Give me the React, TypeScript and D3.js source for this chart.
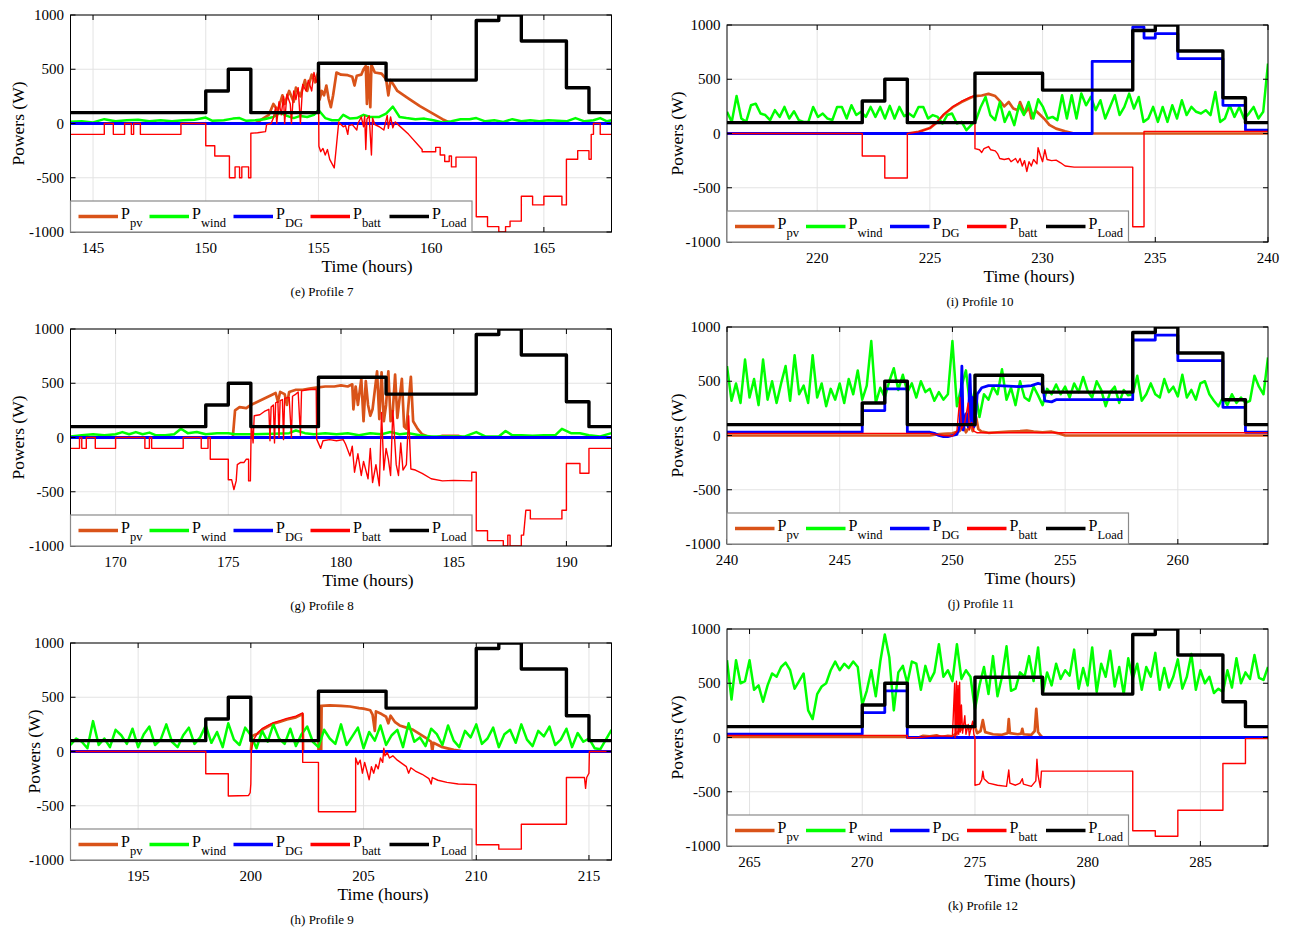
import React from 'react';
import * as d3 from 'd3';

type Pt = [number, number];

// Hourly load demand (W); the same daily pattern repeats every day
const loadByHour = [100, 100, 100, 100, 100, 100, 300, 500, 100, 100, 100, 555, 555, 555, 400, 400, 400, 400, 950, 1000, 760, 760, 330, 100];

const yTickValues = [-1000, -500, 0, 500, 1000];
const legendNames = ['pv', 'wind', 'DG', 'batt', 'Load'];

// ---------- Profile 7 (144 - 168 h) ----------
const p7Ticks = [145, 150, 155, 160, 165];
const p7Pv: Pt[] = [[144, 0], [152.2, 0], [152.5, 40], [152.8, 80], [153.0, 180], [153.2, 120], [153.4, 260], [153.5, 180], [153.7, 300], [153.9, 200], [154.0, 330], [154.2, 250], [154.4, 400], [154.5, 300], [154.7, 450], [154.85, 380], [155.0, 480], [155.05, 220], [155.15, 300], [155.25, 260], [155.35, 350], [155.45, 230], [155.55, 150], [155.65, 260], [155.8, 470], [156.0, 450], [156.3, 445], [156.5, 430], [156.6, 350], [156.7, 440], [156.9, 450], [157.0, 500], [157.1, 530], [157.15, 180], [157.2, 520], [157.3, 150], [157.35, 540], [157.5, 470], [157.8, 460], [158.0, 410], [158.1, 260], [158.2, 400], [158.35, 350], [158.5, 300], [159.0, 230], [159.5, 160], [160.0, 100], [160.5, 40], [160.9, 0], [168, 0]];
const p7Wind: Pt[] = [[144, 15], [144.5, 20], [145, 10], [145.5, 40], [146, 20], [146.5, 30], [147, 35], [147.5, 20], [148, 30], [148.5, 20], [149, 30], [149.5, 35], [150, 55], [150.3, 25], [150.8, 30], [151.2, 45], [151.5, 50], [151.8, 25], [152.2, 30], [152.6, 40], [153.0, 60], [153.3, 100], [153.6, 70], [153.9, 50], [154.2, 70], [154.5, 60], [154.8, 80], [155.0, 125], [155.3, 50], [155.6, 30], [155.9, 30], [156.1, 80], [156.4, 45], [156.7, 50], [157.0, 80], [157.3, 60], [157.7, 60], [158.0, 90], [158.3, 155], [158.6, 60], [158.9, 50], [159.3, 40], [159.7, 45], [160.1, 30], [160.5, 10], [160.9, 20], [161.3, 40], [161.7, 40], [162.0, 50], [162.4, 20], [162.8, 30], [163.2, 15], [163.6, 40], [164.0, 20], [164.4, 30], [164.8, 20], [165.2, 30], [165.6, 25], [166.0, 20], [166.4, 50], [166.8, 20], [167.2, 30], [167.5, 50], [167.8, 20], [168, 30]];
const p7Dg: Pt[] = [[144, 0], [168, 0]];
const p7Batt: Pt[] = [[144, -100], [145.5, -100], [145.5, 0], [145.9, 0], [145.9, -100], [146.4, -100], [146.4, 0], [146.7, 0], [146.7, -100], [146.8, -100], [146.8, 0], [147.1, 0], [147.1, -100], [148.9, -100], [148.9, 0], [150, 0], [150, -205], [150.4, -205], [150.4, -300], [151.05, -300], [151.05, -500], [151.3, -500], [151.3, -400], [151.5, -400], [151.5, -500], [151.6, -500], [151.6, -400], [151.9, -400], [151.9, -500], [152, -500], [152, -90], [152.3, -85], [152.65, -75], [152.7, -10], [152.9, 0], [153.0, 50], [153.1, 150], [153.15, 0], [153.25, 200], [153.35, 80], [153.45, 250], [153.5, 0], [153.6, 270], [153.75, 180], [153.8, 0], [153.9, 300], [154.0, 220], [154.1, 330], [154.2, 0], [154.3, 360], [154.45, 300], [154.55, 400], [154.7, 300], [154.8, 470], [154.9, 380], [155.0, 430], [155.02, -210], [155.1, -260], [155.2, -230], [155.3, -290], [155.4, -240], [155.5, -330], [155.6, -370], [155.7, -410], [155.8, -200], [155.9, 15], [156.0, -10], [156.1, -30], [156.2, -20], [156.3, -100], [156.35, -20], [156.5, -10], [156.7, -60], [156.75, 0], [156.9, 60], [157.0, -30], [157.05, 70], [157.1, -240], [157.15, 40], [157.25, 70], [157.35, -290], [157.4, 50], [157.5, -10], [157.7, -30], [157.9, -60], [158.05, 75], [158.1, -45], [158.2, 60], [158.3, -40], [158.4, 15], [159.0, -100], [159.6, -240], [159.6, -260], [160.2, -260], [160.2, -220], [160.4, -220], [160.4, -290], [160.6, -290], [160.6, -350], [160.8, -350], [160.8, -300], [160.9, -300], [160.9, -400], [161.1, -400], [161.1, -310], [162, -310], [162, -860], [162.5, -860], [162.5, -950], [163, -950], [163, -1000], [163.3, -1000], [163.3, -950], [163.5, -950], [163.5, -900], [164, -900], [164, -670], [164.5, -670], [164.5, -750], [165, -750], [165, -670], [165.8, -670], [165.8, -750], [166, -750], [166, -330], [166.5, -330], [166.5, -250], [167, -250], [167, -330], [167.1, -330], [167.1, -100], [167.2, -100], [167.2, 0], [167.5, 0], [167.5, -100], [168, -100]];

// ---------- Profile 8 (168 - 192 h) ----------
const p8Ticks = [170, 175, 180, 185, 190];
const p8Pv: Pt[] = [[168, 0], [175.2, 0], [175.3, 250], [175.5, 280], [175.8, 270], [176.0, 300], [176.3, 330], [176.6, 360], [176.9, 390], [177.1, 410], [177.2, 330], [177.3, 420], [177.5, 400], [177.6, 300], [177.7, 420], [178.0, 440], [178.3, 440], [178.6, 450], [178.9, 460], [179.3, 470], [179.7, 470], [180.0, 480], [180.3, 470], [180.5, 490], [180.55, 260], [180.65, 470], [180.75, 300], [180.9, 540], [181.0, 150], [181.1, 520], [181.2, 300], [181.3, 200], [181.4, 260], [181.6, 610], [181.7, 170], [181.8, 600], [181.9, 150], [182.0, 300], [182.1, 610], [182.2, 150], [182.3, 250], [182.4, 580], [182.5, 180], [182.7, 540], [182.8, 100], [182.9, 80], [183.1, 560], [183.2, 150], [183.4, 80], [183.6, 30], [183.9, 5], [184.2, 0], [184.5, 15], [185.2, 15], [185.4, 0], [192, 0]];
const p8Wind: Pt[] = [[168, 10], [168.5, 20], [169, 30], [169.5, 20], [170, 30], [170.3, 50], [170.6, 30], [170.9, 50], [171.2, 30], [171.5, 45], [171.8, 20], [172.2, 20], [172.6, 30], [172.9, 80], [173.2, 40], [173.6, 50], [174.0, 30], [174.5, 40], [175.0, 40], [175.3, 30], [176, 30], [177, 35], [177.7, 40], [178.0, 65], [178.4, 40], [178.8, 30], [179.3, 40], [179.8, 30], [180.3, 40], [180.8, 20], [181.3, 40], [181.8, 30], [182.2, 50], [182.6, 30], [183.0, 40], [183.5, 20], [184, 10], [184.5, 10], [185, 10], [185.5, 10], [186.0, 50], [186.4, 10], [187, 10], [187.3, 60], [187.6, 20], [188, 20], [188.5, 15], [189, 20], [189.5, 20], [189.8, 80], [190.2, 40], [190.6, 40], [191, 20], [191.5, 10], [192, 40]];
const p8Dg: Pt[] = [[168, 0], [192, 0]];
const p8Batt: Pt[] = [[168, -100], [168.4, -100], [168.4, 0], [168.5, 0], [168.5, -100], [168.7, -100], [168.7, 0], [169.1, 0], [169.1, -100], [170, -100], [170, 0], [171.3, 0], [171.3, -100], [171.5, -100], [171.5, 0], [171.6, 0], [171.6, -100], [173, -100], [173, 0], [173.8, 0], [173.8, -100], [174.1, -100], [174.1, 0], [174.2, 0], [174.2, -200], [175, -200], [175, -390], [175.15, -390], [175.25, -480], [175.35, -400], [175.4, -250], [175.55, -230], [175.7, -230], [175.8, -200], [175.9, -200], [175.9, -400], [175.98, -400], [176.02, 150], [176.1, -50], [176.15, 200], [176.4, 210], [176.6, 240], [176.8, 260], [176.85, -30], [176.9, 280], [177.0, 300], [177.05, -50], [177.1, 320], [177.2, 330], [177.25, 0], [177.3, 340], [177.4, 350], [177.45, -20], [177.5, 360], [177.7, 370], [177.8, 0], [177.85, 380], [178.0, 400], [178.1, 420], [178.2, 20], [178.25, 430], [178.5, 440], [178.9, 445], [178.92, -15], [179.1, -100], [179.2, -30], [179.5, -20], [179.8, -30], [180.1, -20], [180.2, -60], [180.4, -170], [180.5, -80], [180.6, -320], [180.75, -150], [180.9, -350], [181.0, -220], [181.2, -380], [181.3, -100], [181.4, -415], [181.55, -250], [181.7, -445], [181.8, 230], [181.9, -300], [182.0, -100], [182.1, -200], [182.2, -350], [182.3, 250], [182.45, -250], [182.55, -350], [182.65, -50], [182.75, -300], [182.9, -250], [183.0, 200], [183.1, -290], [183.3, -300], [183.6, -330], [184.0, -380], [184.5, -400], [185.0, -395], [185.8, -400], [185.8, -320], [186, -320], [186, -860], [186.5, -860], [186.5, -950], [187.2, -950], [187.2, -1000], [187.4, -1000], [187.4, -900], [187.5, -900], [187.5, -1000], [188, -1000], [188, -900], [188.1, -900], [188.2, -670], [188.4, -670], [188.4, -750], [189.8, -750], [189.8, -670], [190, -670], [190, -240], [190.6, -240], [190.6, -330], [191, -330], [191, -100], [192, -100]];

// ---------- Profile 9 (192 - 216 h) ----------
const p9Ticks = [195, 200, 205, 210, 215];
const p9Pv: Pt[] = [[192, 0], [200, 0], [200.05, 140], [200.3, 165], [200.5, 200], [200.8, 235], [201.0, 255], [201.3, 275], [201.6, 295], [202.0, 315], [202.3, 345], [202.32, 0], [203.0, 0], [203.02, 410], [203.1, 420], [203.12, 0], [203.14, 420], [203.5, 425], [204.0, 420], [204.4, 415], [204.8, 400], [205.0, 395], [205.3, 380], [205.4, 340], [205.5, 190], [205.55, 370], [205.8, 345], [206.0, 320], [206.1, 260], [206.2, 330], [206.4, 270], [206.6, 240], [206.9, 220], [207.2, 200], [207.5, 160], [207.8, 120], [208.0, 90], [208.05, 0], [208.1, 80], [208.5, 40], [209.0, 15], [209.5, 0], [216, 0]];
const p9Wind = [60, 120, 90, 30, 280, 60, 120, 40, 200, 150, 70, 210, 40, 160, 230, 60, 110, 250, 90, 40, 150, 220, 70, 130, 240, 80, 180, 40, 260, 110, 60, 220, 150, 30, 190, 90, 250, 120, 70, 210, 50, 160, 230, 90, 40, 200, 120, 70, 250, 60, 140, 220, 30, 180, 100, 240, 60, 150, 200, 40, 260, 90, 130, 50, 210, 160, 60, 240, 100, 40, 190, 130, 250, 70, 120, 220, 40, 160, 200, 80, 250, 110, 50, 190, 140, 230, 60, 110, 210, 40, 170, 90, 120, 30, 20, 110, 200];
const p9Dg: Pt[] = [[192, 0], [216, 0]];
const p9Batt: Pt[] = [[192, 0], [198, 0], [198, -205], [199, -205], [199, -410], [199.9, -405], [199.97, -380], [200, -300], [200.02, 0], [200.1, 100], [200.3, 170], [200.5, 210], [200.8, 245], [201.0, 265], [201.3, 285], [201.6, 305], [202.0, 325], [202.3, 355], [202.3, -100], [203, -100], [203, -555], [204.65, -555], [204.65, -60], [204.75, -120], [204.85, -80], [204.95, -200], [205.05, -100], [205.15, -180], [205.25, -260], [205.35, -140], [205.45, -200], [205.55, -120], [205.65, -160], [205.75, -60], [205.85, -100], [205.9, 30], [205.95, -40], [206.05, -10], [206.15, -60], [206.3, -40], [206.5, -80], [206.7, -110], [206.9, -140], [207.0, -200], [207.1, -150], [207.3, -180], [207.6, -210], [207.9, -250], [208.0, -300], [208.05, -240], [208.3, -265], [208.7, -285], [209.2, -300], [210, -305], [210, -860], [211, -860], [211, -900], [212, -900], [212, -670], [214, -670], [214, -240], [214.8, -240], [214.85, -340], [214.9, -240], [215, -200], [215.02, 0], [216, 0]];

// ---------- Profile 10 (216 - 240 h) ----------
const p10Ticks = [220, 225, 230, 235, 240];
const p10Pv: Pt[] = [[216, 0], [224, 0], [224.5, 15], [225, 50], [225.3, 100], [225.6, 170], [226, 240], [226.4, 290], [226.8, 330], [227, 345], [227.3, 350], [227.6, 365], [227.9, 345], [228.1, 300], [228.3, 250], [228.5, 290], [228.7, 230], [228.9, 215], [229.0, 290], [229.2, 185], [229.4, 240], [229.5, 140], [229.7, 210], [229.9, 170], [230.1, 130], [230.3, 80], [230.6, 45], [231.0, 20], [231.4, 0], [240, 0]];
const p10Wind = [200, 107, 345, 138, 107, 260, 275, 184, 170, 123, 215, 153, 245, 138, 205, 123, 107, 107, 245, 153, 184, 138, 123, 245, 245, 138, 260, 170, 200, 153, 245, 153, 245, 138, 255, 138, 245, 160, 184, 153, 245, 245, 138, 170, 153, 92, 170, 184, 92, 107, 30, 77, 123, 245, 337, 170, 123, 290, 107, 200, 77, 260, 170, 290, 138, 315, 245, 138, 153, 123, 353, 138, 353, 138, 368, 260, 337, 215, 307, 138, 245, 353, 170, 245, 368, 230, 337, 107, 138, 245, 107, 245, 107, 260, 138, 307, 170, 245, 200, 184, 215, 170, 383, 107, 138, 260, 153, 245, 138, 184, 245, 138, 200, 645];
const p10Dg: Pt[] = [[216, 0], [232.2, 0], [232.2, 665], [234, 665], [234, 980], [234.5, 980], [234.5, 880], [235, 880], [235, 920], [236, 920], [236, 690], [238, 690], [238, 260], [239, 260], [239, 30], [240, 30]];
const p10Batt: Pt[] = [[216, 0], [222, 0], [222, -208], [223, -208], [223, -410], [224, -410], [224, 0], [224.5, 15], [225, 50], [225.3, 100], [225.6, 175], [226, 245], [226.4, 295], [226.8, 335], [227, 350], [227, -140], [227.2, -150], [227.3, -175], [227.4, -140], [227.6, -120], [227.7, -150], [227.9, -160], [228.0, -185], [228.1, -230], [228.3, -240], [228.5, -230], [228.6, -260], [228.8, -230], [228.9, -270], [229.0, -230], [229.1, -300], [229.2, -250], [229.3, -350], [229.4, -260], [229.5, -300], [229.6, -240], [229.75, -280], [229.8, -130], [229.9, -200], [230.0, -260], [230.1, -150], [230.2, -240], [230.4, -250], [230.6, -245], [230.8, -270], [231.0, -300], [231.4, -310], [234, -310], [234, -860], [234.5, -860], [234.5, 20], [240, 20]];

// ---------- Profile 11 (240 - 264 h) ----------
const p11Ticks = [240, 245, 250, 255, 260];
const p11Pv: Pt[] = [[240, 0], [249, 0], [249.3, 10], [249.6, 15], [250, 20], [250.3, 40], [250.5, 80], [250.6, 30], [250.8, 100], [250.9, 40], [251.05, 170], [251.15, 60], [251.3, 35], [251.6, 25], [252, 30], [252.5, 35], [253, 40], [253.3, 45], [253.6, 35], [254, 30], [254.4, 35], [254.7, 20], [255, 0], [264, 0]];
const p11Wind = [640, 320, 480, 300, 700, 350, 520, 280, 700, 330, 500, 300, 480, 640, 320, 740, 380, 460, 300, 740, 350, 480, 270, 430, 330, 480, 300, 520, 380, 600, 330, 460, 870, 300, 440, 350, 500, 620, 420, 560, 400, 480, 350, 500, 400, 430, 320, 400, 330, 380, 870, 270, 450, 600, 250, 420, 170, 380, 330, 450, 380, 610, 330, 440, 280, 500, 350, 320, 450, 370, 280, 430, 380, 470, 380, 450, 350, 480, 400, 540, 410, 350, 500, 420, 270, 400, 450, 300, 420, 370, 380, 550, 320, 380, 480, 380, 350, 520, 400, 450, 360, 560, 350, 420, 330, 480, 500, 380, 320, 270, 350, 280, 380, 300, 350, 300, 320, 550, 450, 380, 720];
const p11Dg: Pt[] = [[240, 30], [246, 30], [246, 230], [247, 230], [247, 430], [248, 430], [248, 30], [249, 30], [249.2, 20], [249.4, 0], [249.6, -10], [249.8, -10], [250, 0], [250.2, 10], [250.35, 100], [250.42, 640], [250.48, 50], [250.6, 200], [250.7, 80], [250.78, 560], [250.85, 100], [250.9, 350], [250.95, 80], [251.0, 100], [251.1, 380], [251.3, 440], [251.6, 460], [252, 460], [252.5, 455], [253, 450], [253.5, 460], [253.8, 480], [254, 470], [254.1, 320], [254.4, 310], [254.6, 330], [258, 330], [258, 880], [259, 880], [259, 925], [260, 925], [260, 690], [262, 690], [262, 260], [263, 260], [263, 30], [264, 30]];
const p11Batt: Pt[] = [[240, 20], [249, 20], [249.3, 10], [249.6, 0], [250, -5], [250.2, 40], [250.33, 350], [250.4, 60], [250.55, 120], [250.7, 300], [250.75, 50], [250.85, 120], [250.95, 40], [251.1, 25], [264, 25]];

// ---------- Profile 12 (264 - 288 h) ----------
const p12Ticks = [265, 270, 275, 280, 285];
const p12Pv: Pt[] = [[264, 5], [272, 5], [272, 0], [272.5, 0], [272.7, 15], [273, 10], [273.3, 20], [273.5, 5], [273.8, 15], [274, 10], [274.3, 60], [274.6, 110], [274.8, 80], [274.95, 130], [275.1, 40], [275.25, 60], [275.35, 160], [275.45, 50], [275.8, 30], [276.2, 25], [276.45, 40], [276.5, 170], [276.55, 40], [276.9, 30], [277.05, 35], [277.1, 80], [277.15, 30], [277.5, 25], [277.65, 60], [277.72, 265], [277.8, 50], [277.9, 20], [278, 0], [288, 0]];
const p12Wind = [712, 350, 712, 500, 520, 712, 440, 480, 330, 480, 590, 560, 650, 690, 620, 450, 520, 590, 250, 170, 400, 470, 500, 620, 700, 620, 680, 640, 700, 650, 300, 430, 620, 380, 700, 950, 740, 250, 600, 660, 500, 700, 680, 440, 660, 520, 600, 860, 560, 620, 520, 860, 540, 620, 560, 260, 480, 650, 400, 750, 380, 560, 840, 430, 450, 600, 560, 750, 520, 830, 400, 600, 480, 680, 540, 620, 570, 810, 450, 640, 480, 830, 420, 680, 560, 800, 470, 650, 400, 730, 540, 680, 440, 650, 560, 780, 440, 640, 460, 560, 720, 450, 560, 770, 440, 620, 500, 560, 410, 450, 420, 620, 460, 730, 500, 600, 540, 760, 550, 530, 650];
const p12Dg: Pt[] = [[264, 30], [270, 30], [270, 230], [271, 230], [271, 430], [272, 430], [272, 0], [288, 0]];
const p12Batt: Pt[] = [[264, 20], [272, 20], [272, -5], [272.5, 0], [273, 10], [273.5, 15], [274, 10], [274.1, 500], [274.12, 0], [274.18, 520], [274.2, 20], [274.25, 480], [274.28, 30], [274.32, 510], [274.35, 50], [274.4, 300], [274.45, 40], [274.55, 200], [274.6, 30], [274.7, 120], [274.75, 20], [274.9, 150], [274.95, 30], [275, 0], [275, -440], [275.2, -430], [275.3, -390], [275.35, -310], [275.4, -380], [275.6, -420], [276, -440], [276.4, -450], [276.5, -300], [276.55, -420], [276.8, -440], [277.0, -420], [277.1, -380], [277.15, -430], [277.5, -450], [277.7, -400], [277.75, -200], [277.8, -350], [277.9, -460], [277.95, -310], [282, -310], [282, -860], [283, -860], [283, -910], [284, -910], [284, -670], [286, -670], [286, -240], [287, -240], [287, -10], [288, -10]];

// Evenly spaced samples across a 24 h window
const overDay = (start: number, vals: number[]): Pt[] =>
  vals.map((v, i) => [start + (24 * i) / (vals.length - 1), v] as Pt);

interface Profile {
  id: string;
  caption: string;
  start: number;
  ticks: number[];
  pv: Pt[];
  wind: Pt[];
  dg: Pt[];
  batt: Pt[];
}

const profiles: Profile[] = [
  { id: 'e', caption: '(e) Profile 7', start: 144, ticks: p7Ticks, pv: p7Pv, wind: p7Wind, dg: p7Dg, batt: p7Batt },
  { id: 'g', caption: '(g) Profile 8', start: 168, ticks: p8Ticks, pv: p8Pv, wind: p8Wind, dg: p8Dg, batt: p8Batt },
  { id: 'h', caption: '(h) Profile 9', start: 192, ticks: p9Ticks, pv: p9Pv, wind: overDay(192, p9Wind), dg: p9Dg, batt: p9Batt },
  { id: 'i', caption: '(i) Profile 10', start: 216, ticks: p10Ticks, pv: p10Pv, wind: overDay(216, p10Wind), dg: p10Dg, batt: p10Batt },
  { id: 'j', caption: '(j) Profile 11', start: 240, ticks: p11Ticks, pv: p11Pv, wind: overDay(240, p11Wind), dg: p11Dg, batt: p11Batt },
  { id: 'k', caption: '(k) Profile 12', start: 264, ticks: p12Ticks, pv: p12Pv, wind: overDay(264, p12Wind), dg: p12Dg, batt: p12Batt },
];

// Page layout of each axes box
interface Frame { left: number; top: number; ylabelX: number; xlabelX: number; captionX: number }
const frames: Record<string, Frame> = {
  e: { left: 70.5, top: 15, ylabelX: 18, xlabelX: 367, captionX: 322 },
  g: { left: 70.5, top: 329, ylabelX: 18, xlabelX: 368, captionX: 322 },
  h: { left: 70.5, top: 643, ylabelX: 34, xlabelX: 383, captionX: 322 },
  i: { left: 727, top: 25, ylabelX: 677, xlabelX: 1029, captionX: 980 },
  j: { left: 727, top: 327, ylabelX: 677, xlabelX: 1030, captionX: 981 },
  k: { left: 727, top: 629, ylabelX: 677, xlabelX: 1030, captionX: 983 },
};
const PLOT_W = 541;
const PLOT_H = 217;
const FONT = '"Liberation Serif", "Times New Roman", serif';

const styles = {
  pv: { color: '#d95319', width: 2.7 },
  wind: { color: '#00ff00', width: 2.5 },
  dg: { color: '#0000ff', width: 2.8 },
  batt: { color: '#ff0000', width: 1.4 },
  load: { color: '#000000', width: 3.4 },
};
const legendStyles = [styles.pv, styles.wind, styles.dg, styles.batt, styles.load];
const legendOffsets = [8, 79, 163, 240, 319];

function Panel({ p, f }: { p: Profile; f: Frame }) {
  const right = f.left + PLOT_W;
  const bottom = f.top + PLOT_H;
  const x = d3.scaleLinear().domain([p.start, p.start + 24]).range([f.left, right]);
  const y = d3.scaleLinear().domain([-1000, 1000]).range([bottom, f.top]);
  const line = d3.line<Pt>().x((d) => x(d[0])).y((d) => y(d[1]));
  const step = d3.line<Pt>().x((d) => x(d[0])).y((d) => y(d[1])).curve(d3.curveStepAfter);
  const loadPts: Pt[] = loadByHour.map((v, h) => [p.start + h, v] as Pt);
  loadPts.push([p.start + 24, loadByHour[loadByHour.length - 1]]);
  const clipId = `clip-${p.id}`;
  const tick = 5;
  const legTop = bottom - 31;

  return (
    <g>
      <defs>
        <clipPath id={clipId}>
          <rect x={f.left} y={f.top} width={PLOT_W} height={PLOT_H} />
        </clipPath>
      </defs>
      {/* grid */}
      <g stroke="#e3e3e3" strokeWidth={1}>
        {p.ticks.map((t) => (
          <line key={`gx${t}`} x1={x(t)} x2={x(t)} y1={f.top} y2={bottom} />
        ))}
        {yTickValues.map((v) => (
          <line key={`gy${v}`} x1={f.left} x2={right} y1={y(v)} y2={y(v)} />
        ))}
      </g>
      {/* series */}
      <g clipPath={`url(#${clipId})`} fill="none" strokeLinejoin="round">
        <path d={line(p.pv) || ''} stroke={styles.pv.color} strokeWidth={styles.pv.width} />
        <path d={line(p.wind) || ''} stroke={styles.wind.color} strokeWidth={styles.wind.width} />
        <path d={line(p.dg) || ''} stroke={styles.dg.color} strokeWidth={styles.dg.width} />
        <path d={line(p.batt) || ''} stroke={styles.batt.color} strokeWidth={styles.batt.width} />
        <path d={step(loadPts) || ''} stroke={styles.load.color} strokeWidth={styles.load.width} />
      </g>
      {/* box and ticks */}
      <rect x={f.left} y={f.top} width={PLOT_W} height={PLOT_H} fill="none" stroke="#000" strokeWidth={1} />
      <g stroke="#000" strokeWidth={1}>
        {p.ticks.map((t) => (
          <g key={`tx${t}`}>
            <line x1={x(t)} x2={x(t)} y1={bottom} y2={bottom - tick} />
            <line x1={x(t)} x2={x(t)} y1={f.top} y2={f.top + tick} />
          </g>
        ))}
        {yTickValues.map((v) => (
          <g key={`ty${v}`}>
            <line x1={f.left} x2={f.left + tick} y1={y(v)} y2={y(v)} />
            <line x1={right} x2={right - tick} y1={y(v)} y2={y(v)} />
          </g>
        ))}
      </g>
      <g fontFamily={FONT} fontSize={15} fill="#000">
        {p.ticks.map((t) => (
          <text key={`lx${t}`} x={x(t)} y={bottom + 21} textAnchor="middle">{t}</text>
        ))}
        {yTickValues.map((v) => (
          <text key={`ly${v}`} x={f.left - 6.5} y={y(v) + 5} textAnchor="end">{v}</text>
        ))}
      </g>
      {/* legend */}
      <rect x={f.left} y={legTop} width={401.5} height={31} fill="#fff" stroke="#8a8a8a" strokeWidth={1.2} />
      {legendNames.map((name, i) => {
        const lx = f.left + legendOffsets[i];
        const st = legendStyles[i];
        return (
          <g key={name}>
            <line x1={lx} x2={lx + 39.5} y1={legTop + 15.5} y2={legTop + 15.5} stroke={st.color} strokeWidth={3.4} />
            <text x={lx + 42.5} y={legTop + 17.5} fontFamily={FONT} fontSize={16} fill="#000">
              P
              <tspan fontSize={12.5} dy={8.5}>{name}</tspan>
            </text>
          </g>
        );
      })}
      {/* labels */}
      <text x={f.xlabelX} y={bottom + 40} textAnchor="middle" fontFamily={FONT} fontSize={17.5}>Time (hours)</text>
      <text
        transform={`translate(${f.ylabelX + 6},${(f.top + bottom) / 2}) rotate(-90)`}
        textAnchor="middle"
        fontFamily={FONT}
        fontSize={17.5}
      >
        Powers (W)
      </text>
      <text x={f.captionX} y={bottom + 64} textAnchor="middle" fontFamily={FONT} fontSize={13}>{p.caption}</text>
    </g>
  );
}

export default function App() {
  return (
    <div style={{ position: 'absolute', left: 0, top: 0 }}>
      <svg width={1298} height={934} style={{ display: 'block', background: '#fff' }}>
        {profiles.map((p) => (
          <Panel key={p.id} p={p} f={frames[p.id]} />
        ))}
      </svg>
    </div>
  );
}
